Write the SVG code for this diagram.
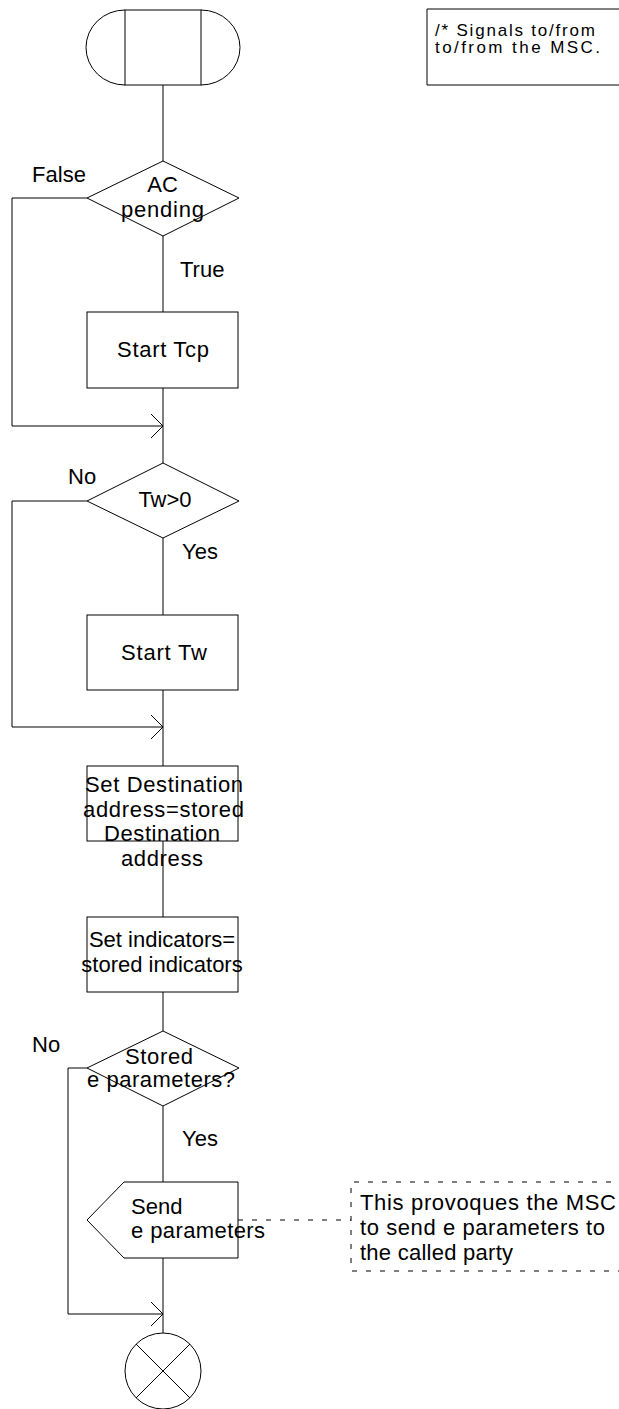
<svg xmlns="http://www.w3.org/2000/svg" width="619" height="1409" viewBox="0 0 619 1409">
<style>
.s{fill:none;stroke:#000;stroke-width:1}
.w{fill:#fff;stroke:#000;stroke-width:1}
.d{fill:none;stroke:#000;stroke-width:1;stroke-dasharray:5 9}
text{font-family:"Liberation Sans",Arial,sans-serif;font-size:22px;fill:#000}
.m{text-anchor:middle}
.c{font-size:17px}
</style>
<defs>
<marker id="ah" markerUnits="userSpaceOnUse" markerWidth="14" markerHeight="26" refX="12" refY="12" orient="auto" viewBox="-1 -1 14 26">
<path d="M0,0 L12,12 L0,24" fill="none" stroke="#000" stroke-width="1"/>
</marker>
</defs>
<g id="connectors">
<line class="s" x1="163" y1="85" x2="163" y2="161"/>
<line class="s" x1="163" y1="236" x2="163" y2="312"/>
<line class="s" x1="163" y1="388" x2="163" y2="463"/>
<polyline class="s" points="87,198 12,198 12,426 163,426" marker-end="url(#ah)"/>
<line class="s" x1="163" y1="538" x2="163" y2="615"/>
<line class="s" x1="163" y1="690" x2="163" y2="766"/>
<polyline class="s" points="87,501 12,501 12,727 163,727" marker-end="url(#ah)"/>
<line class="s" x1="163" y1="841" x2="163" y2="917"/>
<line class="s" x1="163" y1="992" x2="163" y2="1031"/>
<line class="s" x1="163" y1="1106" x2="163" y2="1182"/>
<line class="s" x1="163" y1="1258" x2="163" y2="1333"/>
<polyline class="s" points="87,1068 68,1068 68,1314 163,1314" marker-end="url(#ah)"/>
<line class="d" x1="238" y1="1220" x2="351" y2="1220"/>
<text x="32" y="182" textLength="54">False</text>
<text x="180" y="277">True</text>
<text x="68" y="484">No</text>
<text x="182" y="559">Yes</text>
<text x="32" y="1052">No</text>
<text x="182" y="1146">Yes</text>
</g>
<g id="start">
<rect class="s" x="125" y="10" width="76" height="75"/>
<path class="s" d="M125,10 A39,37.5 0 0 0 125,85"/>
<path class="s" d="M201,10 A39,37.5 0 0 1 201,85"/>
</g>
<g id="comment-top">
<path class="s" d="M625,9 H427 V85 H625"/>
<text class="c" x="435" y="36" textLength="160">/* Signals to/from</text>
<text class="c" x="435" y="53" textLength="165">to/from the MSC.</text>
</g>
<g id="dec-ac">
<polygon class="w" points="163,161 239,198 163,236 87,198"/>
<text class="m" x="162.5" y="192">AC</text>
<text class="m" x="162.5" y="217" textLength="83">pending</text>
</g>
<g id="start-tcp">
<rect class="w" x="87" y="312" width="151" height="76"/>
<text class="m" x="163" y="357" textLength="92">Start Tcp</text>
</g>
<g id="dec-tw">
<polygon class="w" points="163,463 239,501 163,538 87,501"/>
<text class="m" x="165" y="507">Tw&gt;0</text>
</g>
<g id="start-tw">
<rect class="w" x="87" y="615" width="151" height="75"/>
<text class="m" x="164" y="660" textLength="86">Start Tw</text>
</g>
<g id="set-dest">
<rect class="s" x="87" y="766" width="151" height="75"/>
<text class="m" x="164" y="792" textLength="158">Set Destination</text>
<text class="m" x="163.5" y="817" textLength="161">address=stored</text>
<text class="m" x="162" y="841" textLength="116">Destination</text>
<text class="m" x="162" y="866" textLength="82">address</text>
</g>
<g id="set-ind">
<rect class="s" x="87" y="917" width="151" height="75"/>
<text class="m" x="162" y="947">Set indicators=</text>
<text class="m" x="162" y="972">stored indicators</text>
</g>
<g id="dec-stored">
<polygon class="w" points="163,1031 239,1068 163,1106 87,1068"/>
<text class="m" x="159" y="1064" textLength="68">Stored</text>
<text class="m" x="161" y="1087" textLength="148">e parameters?</text>
</g>
<g id="send">
<polygon class="w" points="87,1220 124,1182 238,1182 238,1258 124,1258"/>
<text x="131" y="1214">Send</text>
<text x="131" y="1238" textLength="134">e parameters</text>
</g>
<g id="comment-send">
<path class="d" d="M625,1182 H351 V1271 H625"/>
<text x="360" y="1210" textLength="256">This provoques the MSC</text>
<text x="360" y="1235" textLength="245">to send e parameters to</text>
<text x="360" y="1260" textLength="153">the called party</text>
</g>
<g id="end">
<circle class="s" cx="163" cy="1371" r="38"/>
<line class="s" x1="136" y1="1344" x2="190" y2="1398"/>
<line class="s" x1="190" y1="1344" x2="136" y2="1398"/>
</g>
</svg>
